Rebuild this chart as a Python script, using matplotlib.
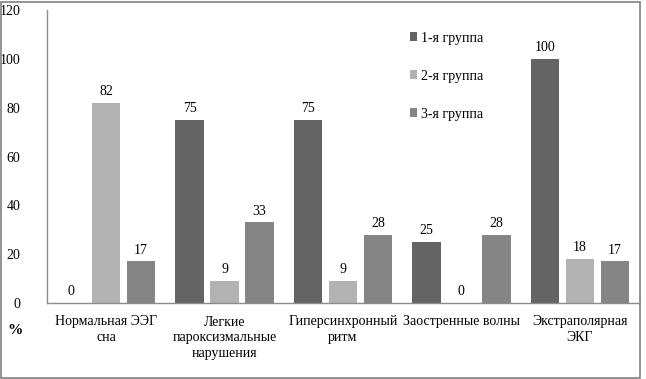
import matplotlib
matplotlib.use("Agg")
import matplotlib.pyplot as plt
import numpy as np
from matplotlib.patches import Rectangle

plt.rcParams['font.family'] = ['Liberation Serif', 'DejaVu Serif']

categories = ["Нормальная ЭЭГ\nсна", "Легкие\nпароксизмальные\nнарушения",
              "Гиперсинхронный\nритм", "Заостренные волны", "Экстраполярная\nЭКГ"]
series_names = ["1-я группа", "2-я группа", "3-я группа"]
group1 = [0, 75, 75, 25, 100]
group2 = [82, 9, 9, 0, 18]
group3 = [17, 33, 28, 28, 17]
yticks = [0, 20, 40, 60, 80, 100, 120]

colors = ["#646464", "#b2b2b2", "#858585"]
fs = 10

fig = plt.figure(figsize=(6.46, 3.79), dpi=100)
ax = fig.add_axes([47/646, 76/379, (639-47)/646, (303-10)/379])

x = np.arange(len(categories))
width = 0.24
offs = [-0.295, 0, 0.295]
for vals, off, c, name in zip([group1, group2, group3], offs, colors, series_names):
    ax.bar(x + off, vals, width, color=c, label=name)
    for xi, v in zip(x + off, vals):
        ax.text(xi, v + 2.0, str(v), ha='center', va='bottom', fontsize=fs)

ax.set_xlim(-0.5, len(categories) - 0.5)
ax.set_ylim(0, 120)
ax.set_yticks(yticks)
ax.set_yticklabels([str(t) for t in yticks], fontsize=fs)
ax.tick_params(axis='y', length=0, pad=19)
ax.set_xticks(x)
ax.set_xticklabels(categories, fontsize=fs, linespacing=1.25, va='top')
ax.tick_params(axis='x', length=0, pad=9)
for s in ['top', 'right']:
    ax.spines[s].set_visible(False)
for s in ['left', 'bottom']:
    ax.spines[s].set_color('#8c8c8c')
    ax.spines[s].set_linewidth(1.0)

fig.text(7/646, 1 - 331/379, "%", fontsize=fs + 1, fontweight='bold', va='center', ha='left')

ax.legend(loc='upper left', bbox_to_anchor=((404-47)/(639-47), 1 - (26-10)/293),
          frameon=False, fontsize=fs, handlelength=0.55, handleheight=0.55,
          handletextpad=0.3, labelspacing=1.8, borderaxespad=0)

fig.patches.append(Rectangle((0.5/646, 1.5/379), 639/646, 376/379, transform=fig.transFigure,
                             fill=False, edgecolor='#808080', linewidth=1.2))

fig.savefig("out.png", dpi=100)
